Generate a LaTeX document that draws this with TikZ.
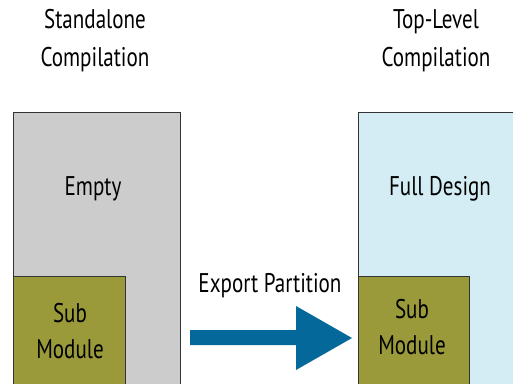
\documentclass[tikz,border=0pt]{standalone}
\usepackage{fontspec}
\setmainfont{PT Sans}[FakeStretch=0.78]
\definecolor{boxgray}{HTML}{CCCCCC}
\definecolor{boxblue}{HTML}{D4EDF4}
\definecolor{submod}{HTML}{9A9A3A}
\definecolor{arrowblue}{HTML}{05689A}
\tikzset{
  title/.style={align=center, font=\fontsize{27}{38}\selectfont},
  label/.style={font=\fontsize{27}{36}\selectfont, align=center},
  region/.style={draw=black!80, line width=0.8pt},
}
\begin{document}
\begin{tikzpicture}[x=1pt,y=-1pt]
  \useasboundingbox (0,0) rectangle (513,383);
  % titles
  \node[title] (tleft) at (95,41) {Standalone\\Compilation};
  \node[title] (tright) at (436,41) {Top-Level\\Compilation};
  \begin{scope}
    \clip (0,0) rectangle (513,383);
    % standalone side
    \draw[region, fill=boxgray] (13,112) rectangle (180,390);
    \draw[region, fill=submod] (13,276) rectangle (125,390);
    % top-level side
    \draw[region, fill=boxblue] (358,112) rectangle (520,390);
    \draw[region, fill=submod] (358,276) rectangle (469,390);
  \end{scope}
  \node[label] (empty) at (93,189) {Empty};
  \node[label] (subl) at (70,331) {Sub\\Module};
  \node[label] (full) at (440,189) {Full Design};
  \node[label] (subr) at (412,327) {Sub\\Module};
  % export arrow
  \node[label] (export) at (270,286) {Export Partition};
  \fill[arrowblue] (190,330) -- (296,330) -- (296,306) -- (352,338)
    -- (296,370) -- (296,345) -- (190,345) -- cycle;
\end{tikzpicture}
\end{document}
